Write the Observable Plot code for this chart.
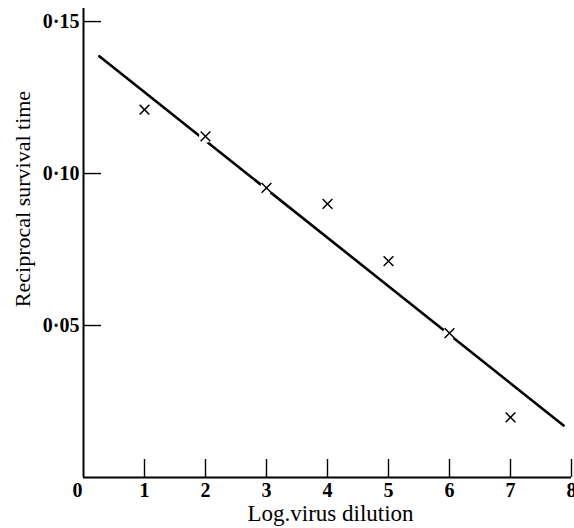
<!DOCTYPE html>
<html>
<head>
<meta charset="utf-8">
<script src="https://cdn.jsdelivr.net/npm/d3@7"></script>
<script src="https://cdn.jsdelivr.net/npm/@observablehq/plot@0.6"></script>
<style>
  html, body { margin: 0; padding: 0; background: #fff; }
  svg { display: block; }
</style>
</head>
<body>
<div id="chart"></div>
<script>
// Observed points
const dilution = [1, 2, 3, 4, 5, 6, 7];
const reciprocalSurvival = [0.121, 0.1122, 0.0953, 0.0900, 0.0712, 0.0475, 0.0198];
// Fitted line end points
const fitX = [0.26, 7.87];
const fitY = [0.1386, 0.0171];
// Tick labels
const xTicks = [0, 1, 2, 3, 4, 5, 6, 7, 8];
const yTicks = [0.05, 0.10, 0.15];
const yTickLabels = ["0·05", "0·10", "0·15"];
const yTop = 0.1543;

const points = dilution.map((x, i) => ({x, y: reciprocalSurvival[i]}));
const fit = fitX.map((x, i) => ({x, y: fitY[i]}));

const tickText = {frameAnchor: "bottom", lineAnchor: "middle", textAnchor: "middle", dy: 13,
  text: d => String(d), fontSize: 20, fontWeight: "bold", fill: "#000"};

const chart = Plot.plot({
  width: 574,
  height: 528,
  marginLeft: 83,
  marginRight: 3,
  marginTop: 8,
  marginBottom: 51,
  style: {fontFamily: "'Liberation Serif', serif", background: "#fff", color: "#000"},
  x: {domain: [0, 8], label: null},
  y: {domain: [0, yTop], label: null},
  marks: [
    Plot.axisX({ticks: xTicks.filter(d => d > 0), tickSize: -18, tickFormat: () => "", strokeWidth: 1.4, label: null}),
    Plot.axisY({ticks: yTicks, tickSize: -18, tickFormat: () => "", strokeWidth: 1.4, label: null}),
    Plot.text(xTicks.filter(d => d > 0), {x: d => d, ...tickText}),
    Plot.text(xTicks.filter(d => d === 0), {x: d => d, ...tickText, dx: -6}),
    Plot.text(yTicks, {y: d => d, frameAnchor: "left", dx: -4, textAnchor: "end", lineAnchor: "middle",
      text: (d, i) => yTickLabels[i], fontSize: 20, fontWeight: "bold", fill: "#000"}),
    Plot.text(["Reciprocal survival time"], {frameAnchor: "left", textAnchor: "middle", lineAnchor: "middle",
      dx: -61, dy: -44, rotate: -90, fontSize: 22, fill: "#000"}),
    Plot.text(["Log.virus dilution"], {frameAnchor: "bottom", textAnchor: "middle", lineAnchor: "middle",
      dx: 3, dy: 36, fontSize: 23, fill: "#000"}),
    Plot.ruleX([0], {stroke: "#000", strokeWidth: 2}),
    Plot.ruleY([0], {stroke: "#000", strokeWidth: 2}),
    Plot.line(fit, {x: "x", y: "y", stroke: "#000", strokeWidth: 2.6}),
    Plot.dot(points, {x: "x", y: "y", r: 6.5, fill: "#fff", stroke: null}),
    Plot.dot(points, {x: "x", y: "y", symbol: "times", r: 4.5, stroke: "#000", strokeWidth: 1.5})
  ]
});
document.getElementById("chart").appendChild(chart);
</script>
</body>
</html>
